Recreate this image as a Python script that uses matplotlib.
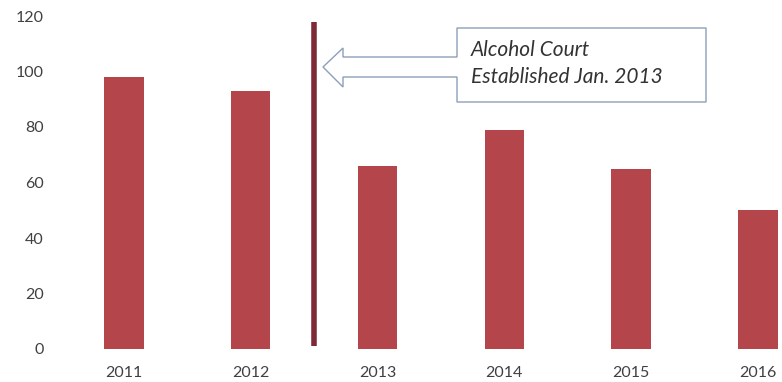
import matplotlib
matplotlib.use("Agg")
import matplotlib.pyplot as plt
from matplotlib.patches import Polygon

years = ["2011", "2012", "2013", "2014", "2015", "2016"]
values = [98, 93, 66, 79, 65, 50]
yticks = [0, 20, 40, 60, 80, 100, 120]
marker_x = 1.5          # between 2012 and 2013
marker_range = (1, 118)
note_lines = ["Alcohol Court", "Established Jan. 2013"]

W, H = 782, 382
fig = plt.figure(figsize=(W / 100, H / 100), dpi=100)
plt.rcParams['font.family'] = ['Lato', 'DejaVu Sans']

# axes placement in pixels
left_px, right_px = 60.5, 782
bottom_px, top_px = 349, 16
ax = fig.add_axes([left_px / W, (H - bottom_px) / H,
                   (right_px - left_px) / W, (bottom_px - top_px) / H])
ax.set_facecolor('none')

x = list(range(len(years)))
ax.bar(x, values, width=0.31, color='#b3454b', zorder=2)
ax.set_xlim(-0.5, 5.19)
ax.set_ylim(0, 120)
ax.set_yticks(yticks)
ax.set_xticks(x)
ax.set_xticklabels(years)
for s in ax.spines.values():
    s.set_visible(False)
ax.tick_params(axis='both', length=0, colors='#404040', labelsize=11.5)
ax.tick_params(axis='y', pad=12)
ax.tick_params(axis='x', pad=12)

ax.vlines(marker_x, marker_range[0], marker_range[1], color='#7d2a36', lw=4, zorder=3)

# callout arrow (pixel coords, y from top)
pts = [(457, 28), (706, 28), (706, 102), (457, 102), (457, 77), (343, 77),
       (343, 87), (323, 67), (343, 48), (343, 57), (457, 57)]
pts_fig = [(px / W, 1 - py / H) for px, py in pts]
fig.patches.append(Polygon(pts_fig, closed=True, transform=fig.transFigure,
                           facecolor='white', edgecolor='#8c9fb8', lw=1))
fig.text(471 / W, 1 - 50 / H, note_lines[0], fontsize=15, style='italic',
         color='#333333', va='center', ha='left')
fig.text(471 / W, 1 - 77 / H, note_lines[1], fontsize=15, style='italic',
         color='#333333', va='center', ha='left')

fig.savefig("out.png", dpi=100, facecolor='white')
